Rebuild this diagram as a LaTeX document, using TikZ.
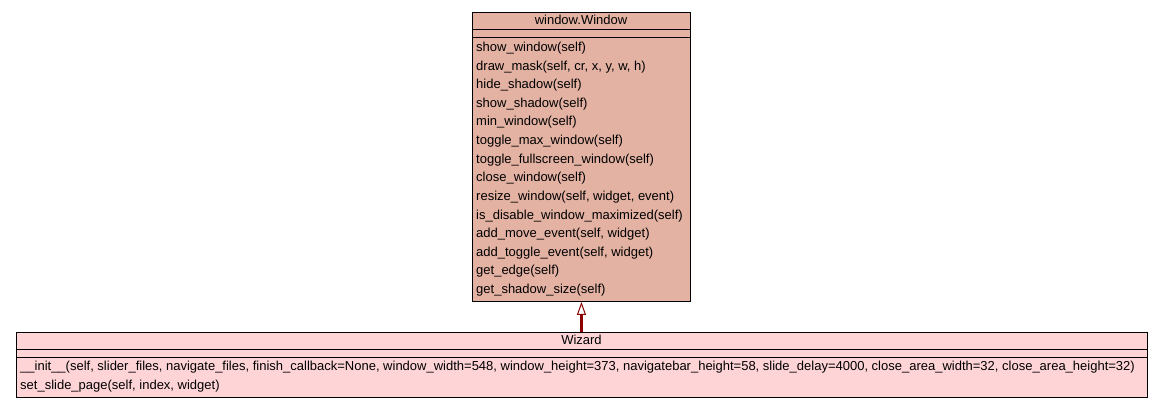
\documentclass[tikz,border=0pt]{standalone}
\usepackage{fontspec}
\setmainfont{Liberation Sans}
\usetikzlibrary{arrows.meta}
\definecolor{basefill}{RGB}{227,178,163}
\definecolor{subfill}{RGB}{254,212,215}
\definecolor{inhred}{RGB}{139,0,0}
\tikzset{
  classbox/.style={draw=black, line width=0.9pt, anchor=north west, inner sep=0pt},
  sepline/.style={draw=black, line width=0.9pt},
  title/.style={font=\fontsize{13}{15}\selectfont, anchor=base, inner sep=0pt},
  meth/.style={font=\fontsize{13}{15}\selectfont, anchor=base west, inner sep=0pt},
  inherit/.style={draw=inhred, line width=2.2pt, -{Triangle[open, length=13pt, width=9pt, line width=1pt, fill=white]}}
}
\begin{document}
\begin{tikzpicture}[x=1pt, y=-1pt]
\useasboundingbox (0,0) rectangle (1163,408);
% base class
\node[classbox, fill=basefill, minimum width=218pt, minimum height=289pt] (win) at (472,12) {};
\draw[sepline] ([yshift=-17pt]win.north west) -- ([yshift=-17pt]win.north east);
\draw[sepline] ([yshift=-25.5pt]win.north west) -- ([yshift=-25.5pt]win.north east);
\node[title] (wint) at (581,24) {window.Window};
\foreach \t [count=\i from 0] in {show\_window(self),draw\_mask(self{,} cr{,} x{,} y{,} w{,} h),hide\_shadow(self),show\_shadow(self),min\_window(self),toggle\_max\_window(self),toggle\_fullscreen\_window(self),close\_window(self),resize\_window(self{,} widget{,} event),is\_disable\_window\_maximized(self),add\_move\_event(self{,} widget),add\_toggle\_event(self{,} widget),get\_edge(self),get\_shadow\_size(self)}
  \node[meth] (winm\i) at (476,51.5+18.62*\i) {\t};
% subclass
\node[classbox, fill=subfill, minimum width=1131pt, minimum height=65pt] (wiz) at (16,332) {};
\draw[sepline] ([yshift=-17pt]wiz.north west) -- ([yshift=-17pt]wiz.north east);
\draw[sepline] ([yshift=-25pt]wiz.north west) -- ([yshift=-25pt]wiz.north east);
\node[title] (wizt) at (581.5,344.5) {Wizard};
\node[meth] (wizm0) at (20,370.5) {\_\_init\_\_(self, slider\_files, navigate\_files, finish\_callback=None, window\_width=548, window\_height=373, navigatebar\_height=58, slide\_delay=4000, close\_area\_width=32, close\_area\_height=32)};
\node[meth] (wizm1) at (20,389.5) {set\_slide\_page(self, index, widget)};
% inheritance
\draw[inherit] (win.south |- wiz.north) -- (win.south);
\end{tikzpicture}
\end{document}
